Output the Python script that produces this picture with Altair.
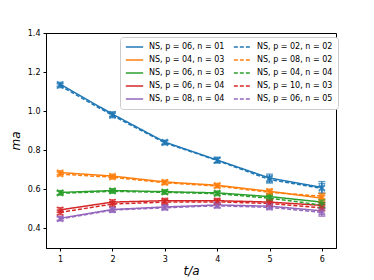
import altair as alt
import pandas as pd

t_vals = [1, 2, 3, 4, 5, 6]

labels = [
    "NS, p = 06, n = 01", "NS, p = 04, n = 03", "NS, p = 06, n = 03",
    "NS, p = 06, n = 04", "NS, p = 08, n = 04",
    "NS, p = 02, n = 02", "NS, p = 08, n = 02", "NS, p = 04, n = 04",
    "NS, p = 10, n = 03", "NS, p = 06, n = 05",
]
colors = ["#1f77b4", "#ff7f0e", "#2ca02c", "#d62728", "#9467bd",
          "#1f77b4", "#ff7f0e", "#2ca02c", "#d62728", "#9467bd"]
dashed = [False] * 5 + [True] * 5

values = [
    [1.138, 0.985, 0.842, 0.750, 0.658, 0.610],
    [0.686, 0.668, 0.638, 0.621, 0.590, 0.555],
    [0.584, 0.594, 0.588, 0.582, 0.563, 0.535],
    [0.495, 0.535, 0.542, 0.542, 0.535, 0.518],
    [0.452, 0.497, 0.510, 0.520, 0.514, 0.490],
    [1.130, 0.978, 0.838, 0.748, 0.650, 0.605],
    [0.678, 0.662, 0.634, 0.617, 0.585, 0.565],
    [0.580, 0.590, 0.585, 0.578, 0.555, 0.520],
    [0.482, 0.525, 0.535, 0.536, 0.528, 0.505],
    [0.448, 0.494, 0.506, 0.516, 0.508, 0.482],
]
errors = [
    [0.010, 0.012, 0.010, 0.015, 0.020, 0.030],
    [0.010, 0.010, 0.010, 0.010, 0.012, 0.015],
    [0.010, 0.010, 0.010, 0.010, 0.012, 0.012],
    [0.012, 0.012, 0.012, 0.012, 0.012, 0.015],
    [0.010, 0.012, 0.012, 0.012, 0.012, 0.020],
    [0.010, 0.012, 0.010, 0.012, 0.018, 0.025],
    [0.010, 0.010, 0.010, 0.010, 0.012, 0.015],
    [0.010, 0.010, 0.010, 0.010, 0.012, 0.012],
    [0.012, 0.012, 0.012, 0.012, 0.012, 0.015],
    [0.010, 0.012, 0.012, 0.012, 0.012, 0.020],
]

rows = []
for i, lab in enumerate(labels):
    for j, t in enumerate(t_vals):
        v = values[i][j]
        e = errors[i][j]
        rows.append({"series": lab, "t": t, "v": v, "lo": v - e, "hi": v + e})
df = pd.DataFrame(rows)

xs = alt.Scale(domain=[0.73, 6.27], nice=False, zero=False)
ys = alt.Scale(domain=[0.3, 1.4], nice=False, zero=False)
cs = alt.Scale(domain=labels, range=colors)
ds = alt.Scale(domain=labels, range=[[4, 2] if d else [1, 0] for d in dashed])

legend = alt.Legend(
    title=None, orient="none", legendX=74, legendY=4, columns=2,
    symbolType="stroke", symbolSize=300, symbolStrokeWidth=1.5, clipHeight=10,
    labelFont="DejaVu Sans", labelFontSize=8, labelColor="black",
    fillColor="white", strokeColor="#cccccc", padding=5, cornerRadius=3,
    rowPadding=3, columnPadding=8, labelLimit=200, labelOffset=5,
)

xax = alt.Axis(values=t_vals, format="d", grid=False, tickSize=3, labelFont="DejaVu Sans",
               labelFontSize=8, labelColor="black", domainColor="black", tickColor="black",
               title="t/a", titleFont="DejaVu Sans", titleFontSize=12,
               titleFontStyle="italic", titleFontWeight="normal", titlePadding=2, labelPadding=4)
yax = alt.Axis(values=[0.4, 0.6, 0.8, 1.0, 1.2, 1.4], format=".1f", grid=False, tickSize=3,
               labelFont="DejaVu Sans", labelFontSize=8, labelColor="black", domainColor="black",
               tickColor="black", title="ma", titleFont="DejaVu Sans", titleFontSize=12,
               titleFontStyle="italic", titleFontWeight="normal", titlePadding=5, labelPadding=3)

base = alt.Chart(df)

lines = base.mark_line(strokeWidth=1.5).encode(
    x=alt.X("t:Q", scale=xs, axis=xax),
    y=alt.Y("v:Q", scale=ys, axis=yax),
    color=alt.Color("series:N", scale=cs, legend=legend, sort=labels),
    strokeDash=alt.StrokeDash("series:N", scale=ds, legend=legend, sort=labels),
    detail="series:N",
)

bars = base.mark_rule(strokeWidth=1.3).encode(
    x="t:Q", y="lo:Q", y2="hi:Q",
    color=alt.Color("series:N", scale=cs, legend=None),
)
cap_lo = base.mark_tick(orient="horizontal", size=7, thickness=1.3).encode(
    x="t:Q", y="lo:Q", color=alt.Color("series:N", scale=cs, legend=None),
)
cap_hi = base.mark_tick(orient="horizontal", size=7, thickness=1.3).encode(
    x="t:Q", y="hi:Q", color=alt.Color("series:N", scale=cs, legend=None),
)
pts = base.mark_point(shape="M-1,-1L1,1M1,-1L-1,1", size=36, filled=False, strokeWidth=1.5).encode(
    x="t:Q", y="v:Q", color=alt.Color("series:N", scale=cs, legend=None),
)

chart = alt.layer(lines, bars, cap_lo, cap_hi, pts).properties(
    width=290, height=215,
    autosize=alt.AutoSizeParams(type="none"),
    padding={"left": 38, "top": 25, "right": 30, "bottom": 30},
).configure_view(stroke="black", strokeWidth=1)

chart.save("out.html", embed_options={"renderer": "svg", "actions": False})
